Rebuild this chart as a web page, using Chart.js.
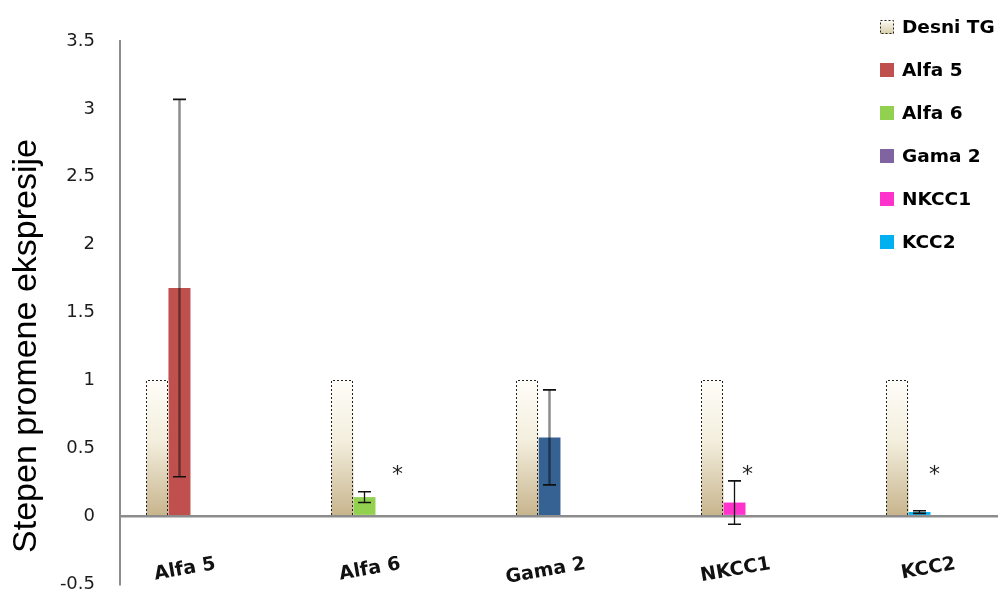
<!DOCTYPE html>
<html>
<head>
<meta charset="utf-8">
<script src="https://cdn.jsdelivr.net/npm/chart.js@4.4.1/dist/chart.umd.min.js"></script>
<style>
  html, body { margin: 0; padding: 0; background: #fff; overflow: hidden; }
  #wrap { width: 1050px; height: 595px; }
</style>
</head>
<body>
<div id="wrap"><canvas id="chart" width="1050" height="595"></canvas></div>
<script>
// Categories on the x axis
const categories = ['Alfa 5', 'Alfa 6', 'Gama 2', 'NKCC1', 'KCC2'];
// Series names shown in the legend
const seriesNames = ['Desni TG', 'Alfa 5', 'Alfa 6', 'Gama 2', 'NKCC1', 'KCC2'];
// Reference (right TG) level, relative expression = 1
const desniTG = [1, 1, 1, 1, 1];
// Relative expression change per gene and its error
const expression = [1.68, 0.14, 0.58, 0.10, 0.03];
const expressionError = [1.39, 0.04, 0.35, 0.16, 0.01];
// Significance marks per category
const significance = ['', '*', '', '*', '*'];
// Y axis tick values
const yTicks = [-0.5, 0, 0.5, 1, 1.5, 2, 2.5, 3, 3.5];

const barColors = ['#c0504d', '#92d050', '#366193', '#ff33cc', '#00b0f0'];
const legendColors = [null, '#c0504d', '#92d050', '#8064a2', '#ff33cc', '#00b0f0'];

function desniFill(ctx) {
  const chart = ctx.chart;
  if (!chart.chartArea || ctx.raw === undefined) return '#efe8d4';
  const y = chart.scales.y;
  const g = chart.ctx.createLinearGradient(0, y.getPixelForValue(ctx.raw), 0, y.getPixelForValue(0));
  g.addColorStop(0, '#fefdf8');
  g.addColorStop(0.45, '#f3eedd');
  g.addColorStop(1, '#c7b48c');
  return g;
}

const datasets = [
  { label: seriesNames[0], data: desniTG, backgroundColor: desniFill, borderWidth: 0 },
  { label: seriesNames[1], data: expression, backgroundColor: barColors, borderWidth: 0 }
];
for (let i = 2; i < seriesNames.length; i++) {
  datasets.push({ label: seriesNames[i], data: [], backgroundColor: legendColors[i], borderWidth: 0 });
}

const TITLE_FONT = "34px 'Liberation Sans', Arial, sans-serif";
const LABEL_FONT = "bold 19px 'DejaVu Sans', sans-serif";
const LEGEND_FONT = "bold 18.5px 'DejaVu Sans', sans-serif";

const decorations = {
  id: 'decorations',
  afterDatasetsDraw(chart) {
    const c = chart.ctx;
    const y = chart.scales.y;
    // dashed outline of reference bars
    const m0 = chart.getDatasetMeta(0);
    c.save();
    c.strokeStyle = '#222';
    c.lineWidth = 1;
    c.setLineDash([2, 2]);
    m0.data.forEach(b => {
      const l = Math.round(b.x - b.width / 2) + 0.5;
      const r = Math.round(b.x + b.width / 2) - 0.5;
      const t = Math.round(b.y) + 0.5;
      const bo = Math.round(b.base);
      c.beginPath();
      c.moveTo(l, bo); c.lineTo(l, t); c.lineTo(r, t); c.lineTo(r, bo);
      c.stroke();
    });
    c.restore();

    // error bars on gene bars
    const m1 = chart.getDatasetMeta(1);
    c.save();
    m1.data.forEach((b, i) => {
      const v = expression[i], e = expressionError[i];
      const yt = y.getPixelForValue(v + e);
      const yb = y.getPixelForValue(v - e);
      const x = Math.round(b.x) + 0.5;
      const heavy = e > 0.3;
      c.strokeStyle = heavy ? 'rgba(0,0,0,0.45)' : '#111';
      c.lineWidth = heavy ? 2.5 : 1.3;
      c.beginPath(); c.moveTo(x, yt); c.lineTo(x, yb); c.stroke();
      c.strokeStyle = '#111';
      c.lineWidth = 1.6;
      c.beginPath();
      c.moveTo(x - 6.5, yt); c.lineTo(x + 6.5, yt);
      c.moveTo(x - 6.5, yb); c.lineTo(x + 6.5, yb);
      c.stroke();
    });
    c.restore();
  },
  afterDraw(chart) {
    const c = chart.ctx;
    const x = chart.scales.x;
    const y = chart.scales.y;
    const m1 = chart.getDatasetMeta(1);

    // significance marks
    const starShift = [0, 33, 0, 13, 15];
    c.save();
    c.fillStyle = '#222';
    c.font = "22px 'DejaVu Sans', sans-serif";
    c.textAlign = 'center';
    c.textBaseline = 'middle';
    significance.forEach((s, i) => {
      if (!s) return;
      c.fillText(s, m1.data[i].x + starShift[i], y.getPixelForValue(0.3));
    });
    c.restore();

    // category labels, slanted
    c.save();
    c.fillStyle = '#111';
    c.font = LABEL_FONT;
    c.textAlign = 'right';
    c.textBaseline = 'middle';
    categories.forEach((lab, i) => {
      c.save();
      c.translate(x.getPixelForValue(i) + 3, 564);
      c.rotate(-10 * Math.PI / 180);
      c.fillText(lab, 0, 0);
      c.restore();
    });
    c.restore();

    // y axis title
    c.save();
    c.fillStyle = '#000';
    c.font = TITLE_FONT;
    c.textAlign = 'center';
    c.textBaseline = 'middle';
    c.translate(27, 346);
    c.rotate(-Math.PI / 2);
    c.fillText('Stepen promene ekspresije', 0, 0);
    c.restore();

    // legend
    c.save();
    c.font = LEGEND_FONT;
    c.textAlign = 'left';
    c.textBaseline = 'middle';
    seriesNames.forEach((name, i) => {
      const cy = 27 + i * 43;
      const sx = 880, sy = Math.round(cy - 7);
      if (i === 0) {
        const g = c.createLinearGradient(0, sy, 0, sy + 14);
        g.addColorStop(0, '#fefdf8');
        g.addColorStop(1, '#d8cba8');
        c.fillStyle = g;
        c.fillRect(sx, sy, 14, 14);
        c.strokeStyle = '#222';
        c.lineWidth = 1;
        c.setLineDash([2, 2]);
        c.strokeRect(sx + 0.5, sy + 0.5, 13, 13);
        c.setLineDash([]);
      } else {
        c.fillStyle = legendColors[i];
        c.fillRect(sx, sy, 14, 14);
      }
      c.fillStyle = '#000';
      c.fillText(name, 902, cy + 1);
    });
    c.restore();
  }
};

new Chart(document.getElementById('chart'), {
  type: 'bar',
  data: { labels: categories, datasets },
  options: {
    responsive: false,
    animation: false,
    devicePixelRatio: 1,
    categoryPercentage: 6 / 8.4,
    barPercentage: 1,
    layout: { autoPadding: false, padding: { left: 0, right: 5, top: 41, bottom: 11 } },
    plugins: { legend: { display: false }, tooltip: { enabled: false } },
    scales: {
      x: { display: false },
      y: {
        min: -0.5,
        max: 3.5,
        afterFit(scale) {
          scale.width = 120;
          scale.paddingTop = 0;
          scale.paddingBottom = 0;
        },
        afterBuildTicks(scale) { scale.ticks = yTicks.map(v => ({ value: v })); },
        border: { display: true, color: '#8c8c8c', width: 2 },
        grid: {
          drawTicks: false,
          color: ctx => (ctx.tick && ctx.tick.value === 0 ? '#8c8c8c' : 'rgba(0,0,0,0)'),
          lineWidth: 2.5
        },
        ticks: {
          padding: 25,
          color: '#1c1c1c',
          font: { family: "'DejaVu Sans', sans-serif", size: 18 },
          callback: v => String(v)
        }
      }
    }
  },
  plugins: [decorations]
});
</script>
</body>
</html>
